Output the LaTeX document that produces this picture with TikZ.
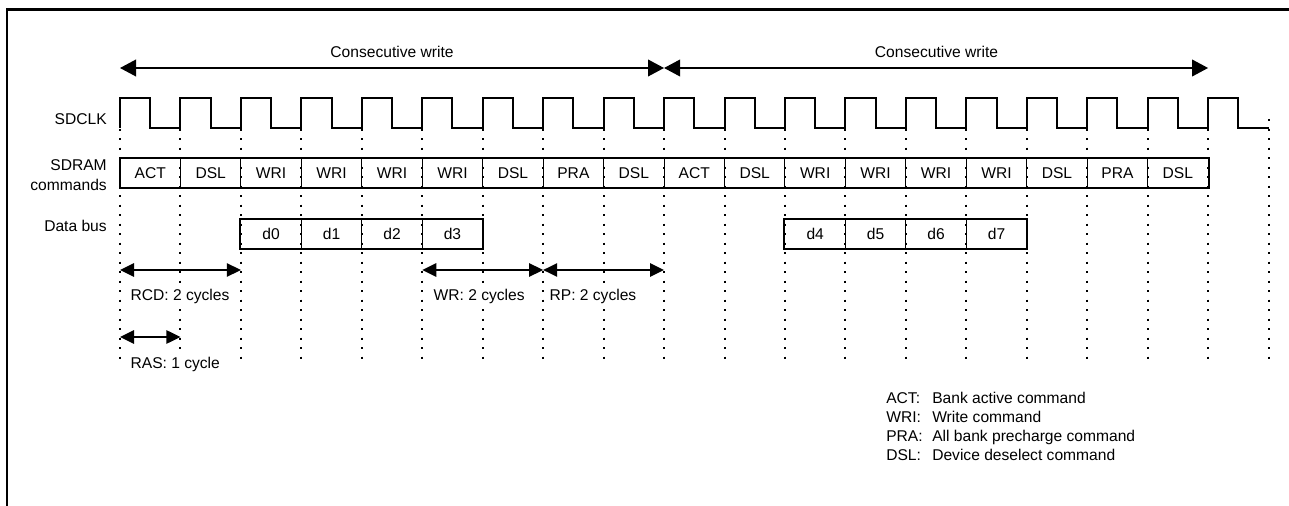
\documentclass[tikz,border=0pt]{standalone}
\usepackage{fontspec}
\setmainfont{Liberation Sans}
\usetikzlibrary{arrows.meta, positioning, calc}

\begin{document}
\begin{tikzpicture}[
    x=0.75pt, y=-0.75pt,
    every node/.style={
        font=\fontsize{11.7}{14.8}\selectfont,
        inner sep=0pt,
    },
    cell/.style={
        draw, line width=0.7pt,
        minimum width=45.34pt, minimum height=22.5pt,
    },
    outline/.style={line width=1.5pt},
    sig/.style={line width=1.5pt, line join=miter},
    grid/.style={
        line width=1.5pt,
        dash pattern=on 1.5pt off 5.63pt,
    },
    span/.style={
        <->, line width=1.2pt,
        >={Triangle[length=10.5pt, width=10pt]},
    },
    wspan/.style={
        <->, line width=1.2pt,
        >={Triangle[length=12pt, width=12.5pt]},
    },
    note/.style={anchor=base west, fill=white, inner sep=1pt},
]
\useasboundingbox (0,0) rectangle (1289,506);

%--- Frame ---
\draw[line width=2.2pt] (7,506) -- (7,9.5) -- (1289,9.5);

%--- Time grid (one line per clock edge) ---
\foreach \k in {0,...,19}
    \coordinate (g\k) at (120+60.45*\k, 119);
\foreach \k in {0,...,19}
    \draw[grid] (g\k) -- ++(0,241);

% rows used by the spans
\coordinate (toprow) at (0,68);
\coordinate (rcdrow) at (0,270);
\coordinate (rasrow) at (0,337);

%--- Consecutive write spans ---
\draw[wspan] (g0 |- toprow) -- (g9 |- toprow);
\draw[wspan] (g9 |- toprow) -- (g18 |- toprow);
\node[anchor=base] (cw1) at (392,58) {Consecutive write};
\node[anchor=base] (cw2) at (936.5,58) {Consecutive write};

%--- Row labels ---
\node[anchor=base east] (clklbl) at (107,125) {SDCLK};
\node[anchor=base east, align=right] (cmdlbl) at (107,190.7) {SDRAM\\commands};
\node[anchor=base east] (buslbl) at (107,231.7) {Data bus};

%--- SDCLK ---
\draw[sig] (120,128) \foreach \k in {0,...,18} {
    -- ++(0,-30) -- ++(30.225,0) -- ++(0,30) -- ++(30.225,0)
};

%--- SDRAM commands ---
\foreach \cmd [count=\i from 0] in
    {ACT,DSL,WRI,WRI,WRI,WRI,DSL,PRA,DSL,ACT,DSL,WRI,WRI,WRI,WRI,DSL,PRA,DSL}
    \node[cell] (c\i) at (150.225+60.45*\i, 173) {\cmd};
\draw[outline] (c0.north west) rectangle (c17.south east);

%--- Data bus ---
\foreach \d [count=\i from 0] in {d0,d1,d2,d3}
    \node[cell] (\d) at (150.225+60.45*\i+120.9, 234) {\d};
\foreach \d [count=\i from 0] in {d4,d5,d6,d7}
    \node[cell] (\d) at (150.225+60.45*\i+664.95, 234) {\d};
\draw[outline] (d0.north west) rectangle (d3.south east);
\draw[outline] (d4.north west) rectangle (d7.south east);

%--- Timing parameters ---
\draw[span] (g0 |- rcdrow) -- (g2 |- rcdrow);
\node[note] (rcd) at (129,300) {RCD: 2 cycles};

\draw[span] (g0 |- rasrow) -- (g1 |- rasrow);
\node[note] (ras) at (129,368) {RAS: 1 cycle};

\draw[span] (g5 |- rcdrow) -- (g7 |- rcdrow);
\node[note] (wr) at (432,300) {WR: 2 cycles};

\draw[span] (g7 |- rcdrow) -- (g9 |- rcdrow);
\node[note] (rp) at (548,300) {RP: 2 cycles};

%--- Legend ---
\foreach \abbr/\desc [count=\i from 0] in
    {ACT/Bank active command, WRI/Write command,
     PRA/All bank precharge command, DSL/Device deselect command} {
    \node[anchor=base west] (key\i) at (886, 403+19*\i) {\abbr:};
    \node[anchor=base west] (txt\i) at (932, 403+19*\i) {\desc};
}

\end{tikzpicture}
\end{document}
